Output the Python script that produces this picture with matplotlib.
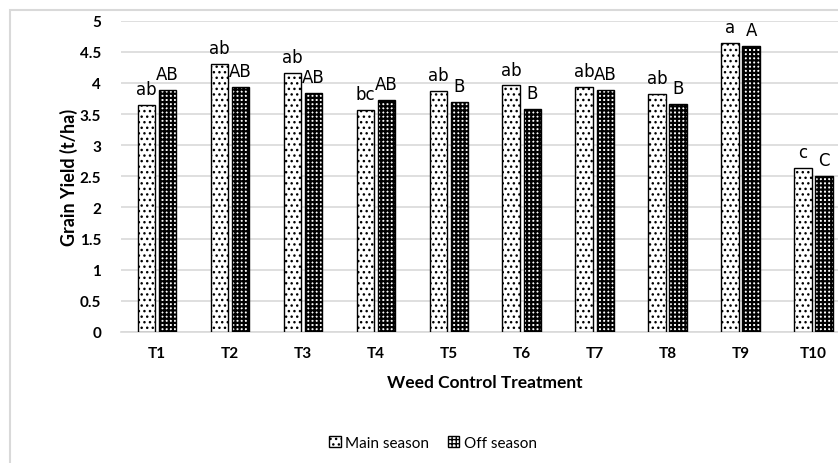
import numpy as np
import matplotlib
matplotlib.use("Agg")
import matplotlib.pyplot as plt
from matplotlib.patches import Rectangle, Patch

# data
treatments = ["T1", "T2", "T3", "T4", "T5", "T6", "T7", "T8", "T9", "T10"]
main_season = [3.65, 4.31, 4.16, 3.56, 3.87, 3.96, 3.93, 3.83, 4.64, 2.63]
off_season = [3.89, 3.93, 3.84, 3.73, 3.70, 3.58, 3.89, 3.66, 4.60, 2.50]
main_letters = ["ab", "ab", "ab", "bc", "ab", "ab", "ab", "ab", "a", "c"]
off_letters = ["AB", "AB", "AB", "AB", "B", "B", "AB", "B", "A", "C"]
yticks = [0, 0.5, 1, 1.5, 2, 2.5, 3, 3.5, 4, 4.5, 5]

W, H = 838, 464
fig = plt.figure(figsize=(W / 100, H / 100), dpi=100)

# chart-area border (picture is cropped at right and bottom)
fig.patches.append(Rectangle((10 / W, -0.1), 1.2, 1 - 10.5 / H + 0.1,
                             transform=fig.transFigure, fill=False,
                             edgecolor="#d9d9d9", linewidth=1.5))

ax = fig.add_axes([120.6 / W, (H - 333) / H, 729.4 / W, 311.3 / H])

x = np.arange(len(treatments))
bw = 0.24
off = 0.145
with plt.rc_context({"hatch.linewidth": 1.0}):
    b1 = ax.bar(x - off, main_season, bw, facecolor="white", edgecolor="black",
                hatch="...", linewidth=1.0, zorder=3)
with plt.rc_context({"hatch.linewidth": 1.6}):
    b2 = ax.bar(x + off, off_season, bw, facecolor="white", edgecolor="black",
                hatch="++++", linewidth=1.0, zorder=3)

ann = dict(ha="center", va="bottom", fontsize=12, family="DejaVu Sans",
           textcoords="offset points")
for i in range(len(treatments)):
    ax.annotate(main_letters[i], (x[i] - off, main_season[i]), xytext=(0, 5), **ann)
    ax.annotate(off_letters[i], (x[i] + off, off_season[i]), xytext=(0, 5), **ann)

ax.set_ylim(0, 5)
ax.set_xlim(-0.5, len(treatments) - 0.5)
ax.set_yticks(yticks)
ax.set_yticklabels([f"{v:g}" for v in yticks])
ax.set_xticks(x)
ax.set_xticklabels(treatments)
ax.tick_params(length=0, labelsize=11, pad=10)
ax.tick_params(axis="y", pad=14)
for lab in ax.get_xticklabels() + ax.get_yticklabels():
    lab.set_fontweight("bold")
    lab.set_family("Lato")

ax.grid(axis="y", color="#d9d9d9", linewidth=1.2, zorder=0)
for s in ["top", "right", "left"]:
    ax.spines[s].set_visible(False)
ax.spines["bottom"].set_color("#d9d9d9")
ax.spines["bottom"].set_linewidth(1.2)

ax.set_ylabel("Grain Yield (t/ha)", fontsize=13, fontweight="bold",
              family="Lato", labelpad=1)
ax.set_xlabel("Weed Control Treatment", fontsize=12.5, fontweight="bold",
              family="Lato", labelpad=10)

with plt.rc_context({"hatch.linewidth": 1.0}):
    h1 = Patch(facecolor="white", edgecolor="black", hatch="...", label="Main season")
with plt.rc_context({"hatch.linewidth": 1.6}):
    h2 = Patch(facecolor="white", edgecolor="black", hatch="++++", label="Off season")
fig.legend(handles=[h1, h2], loc="center", bbox_to_anchor=(433 / W, 1 - 444 / H),
           ncol=2, frameon=False, handlelength=0.75, handleheight=0.75,
           handletextpad=0.3, columnspacing=1.2,
           prop={"family": "Lato", "size": 11})

fig.savefig("out.png", dpi=100)
